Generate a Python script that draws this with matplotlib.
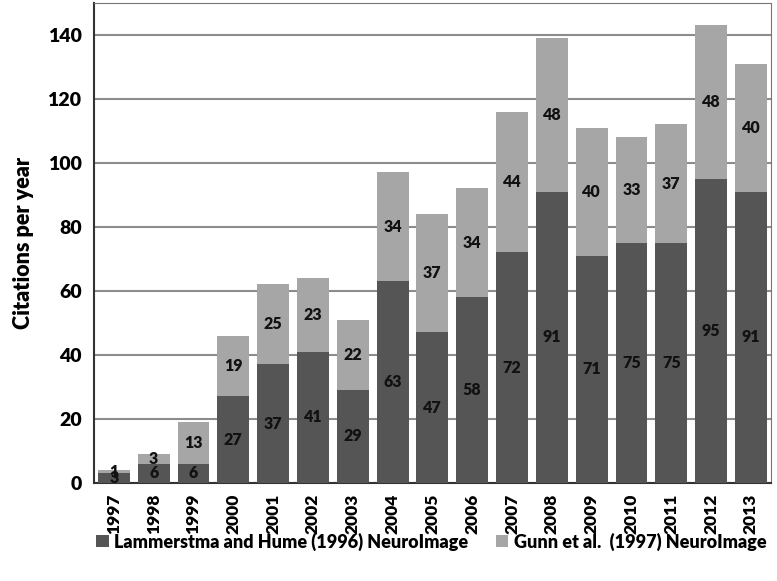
import matplotlib.pyplot as plt
import numpy as np

# citation counts per year
years = ['1997', '1998', '1999', '2000', '2001', '2002', '2003', '2004', '2005',
         '2006', '2007', '2008', '2009', '2010', '2011', '2012', '2013']
lammerstma = [3, 6, 6, 27, 37, 41, 29, 63, 47, 58, 72, 91, 71, 75, 75, 95, 91]
gunn = [1, 3, 13, 19, 25, 23, 22, 34, 37, 34, 44, 48, 40, 33, 37, 48, 40]

series_names = ['Lammerstma and Hume (1996) NeuroImage',
                'Gunn et al.  (1997) NeuroImage']

plt.rcParams['font.family'] = ['Lato', 'DejaVu Sans']
plt.rcParams['font.weight'] = 'bold'

fig = plt.figure(figsize=(7.77, 5.81), dpi=100)
ax = fig.add_axes([0.121, 0.169, 0.871, 0.826])

x = np.arange(len(years))
width = 0.8
b1 = ax.bar(x, lammerstma, width, color='#555555', label=series_names[0], zorder=3)
b2 = ax.bar(x, gunn, width, bottom=lammerstma, color='#a6a6a6', label=series_names[1], zorder=3)

# value labels in the middle of each segment
for rect, v in zip(b1, lammerstma):
    ax.text(rect.get_x() + rect.get_width() / 2, v / 2, str(v),
            ha='center', va='center', fontsize=11.5, fontweight='heavy', color='#111111', zorder=4)
for rect, v, base in zip(b2, gunn, lammerstma):
    ax.text(rect.get_x() + rect.get_width() / 2, base + v / 2, str(v),
            ha='center', va='center', fontsize=11.5, fontweight='heavy', color='#111111', zorder=4)

ax.set_xlim(-0.5, len(years) - 0.5)
ax.set_ylim(0, 150)
ax.set_yticks(range(0, 141, 20))
ax.set_xticks(x)
ax.set_xticklabels(years, rotation=90, fontsize=12.5, fontweight='heavy')
for lab in ax.get_yticklabels():
    lab.set_fontweight('heavy')
ax.tick_params(axis='y', labelsize=14, length=0, pad=9)
ax.tick_params(axis='x', length=0, pad=8)
ax.set_ylabel('Citations per year', fontsize=15.5, fontweight='heavy', labelpad=10)

ax.grid(axis='y', color='#8c8c8c', linewidth=1.5, zorder=0)
ax.spines['left'].set_color('#333333')
ax.spines['left'].set_linewidth(1.5)
ax.spines['bottom'].set_color('#333333')
ax.spines['bottom'].set_linewidth(1.5)
ax.spines['top'].set_color('#777777')
ax.spines['right'].set_color('#777777')

fig.legend(loc='center', bbox_to_anchor=(0.555, 0.068), ncol=2, frameon=False,
           prop={'size': 13, 'weight': 'heavy'}, handlelength=0.7, handleheight=0.7,
           handletextpad=0.3, columnspacing=1.5)

plt.savefig('out.png', dpi=100)
